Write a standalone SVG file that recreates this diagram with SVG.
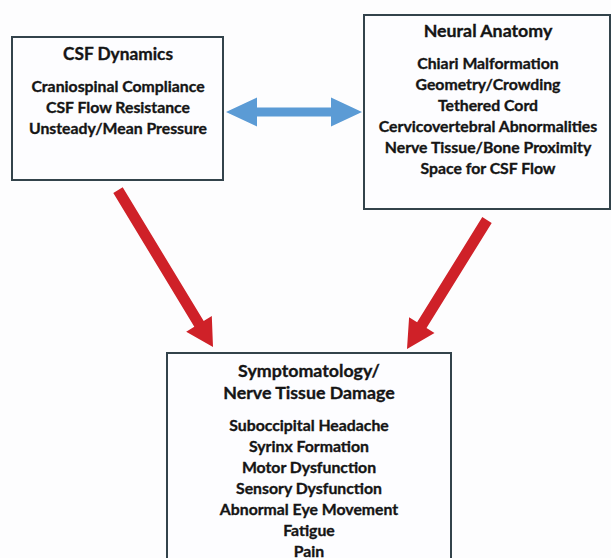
<svg xmlns="http://www.w3.org/2000/svg" width="611" height="558" viewBox="0 0 611 558">
<defs>
<style>
.box{fill:#fdfdff;stroke:#33434b;stroke-width:2}
.t{font-family:Lato,"Open Sans","Liberation Sans",sans-serif;font-weight:bold;fill:#151515;stroke:#151515;stroke-width:0.35;text-anchor:middle}
.h{font-size:17.8px}
.l{font-size:15.8px}
.red{fill:#cf2128}
.blue{fill:#5b9bd5}
</style>
</defs>
<rect width="611" height="558" fill="#fdfdfe"/>
<g id="connectors">
<polygon class="blue" points="226,112 257,97.5 257,107.5 331,107.5 331,97.5 362,112 331,126.5 331,116.5 257,116.5 257,126.5"/>
<polygon class="red" points="122.7,187.2 203.7,321.1 211.8,316.1 213,347 186.2,331.7 194.3,326.8 113.3,192.9"/>
<polygon class="red" points="482.3,217.1 417.1,322.3 409.1,317.3 407,349 434.5,333.1 426.5,328.1 491.7,222.9"/>
</g>
<g id="csf-dynamics">
<rect class="box" x="12" y="37" width="211" height="143"/>
<text class="t h" x="118" y="60" style="font-size:17.3px">CSF Dynamics</text>
<text class="t l" x="118" y="92">Craniospinal Compliance</text>
<text class="t l" x="118" y="113">CSF Flow Resistance</text>
<text class="t l" x="118" y="134">Unsteady/Mean Pressure</text>
</g>
<g id="neural-anatomy">
<rect class="box" x="364" y="15" width="246" height="194"/>
<text class="t h" x="488" y="37">Neural Anatomy</text>
<text class="t l" x="488" y="69">Chiari Malformation</text>
<text class="t l" x="488" y="90">Geometry/Crowding</text>
<text class="t l" x="488" y="111">Tethered Cord</text>
<text class="t l" x="488" y="132">Cervicovertebral Abnormalities</text>
<text class="t l" x="488" y="153">Nerve Tissue/Bone Proximity</text>
<text class="t l" x="488" y="174">Space for CSF Flow</text>
</g>
<g id="symptomatology">
<rect class="box" x="167" y="353" width="284" height="220"/>
<text class="t h" x="309" y="377">Symptomatology/</text>
<text class="t h" x="309" y="399">Nerve Tissue  Damage</text>
<text class="t l" x="309" y="431">Suboccipital Headache</text>
<text class="t l" x="309" y="452">Syrinx Formation</text>
<text class="t l" x="309" y="473">Motor Dysfunction</text>
<text class="t l" x="309" y="494">Sensory Dysfunction</text>
<text class="t l" x="309" y="515">Abnormal Eye Movement</text>
<text class="t l" x="309" y="536">Fatigue</text>
<text class="t l" x="309" y="557">Pain</text>
</g>
</svg>
